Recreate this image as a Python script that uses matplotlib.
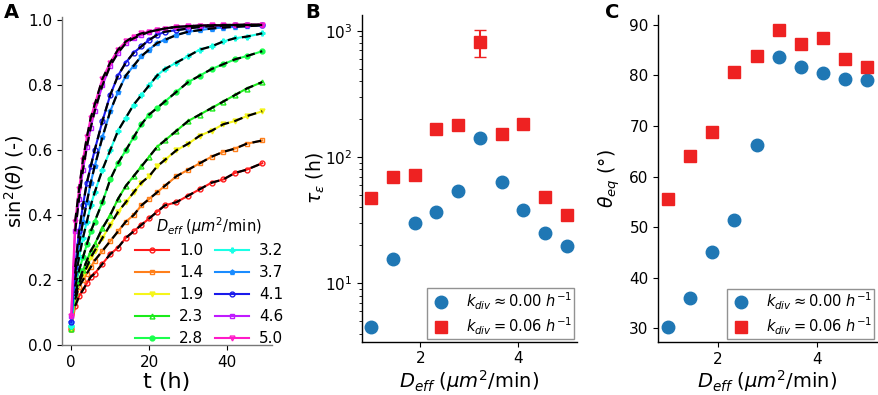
import numpy as np
import matplotlib
matplotlib.use('Agg')
import matplotlib.pyplot as plt

# ---- data ----
# panel A: sin^2(theta) vs time for each D_eff
t_h = [0, 1, 2, 3, 4, 5, 6, 8, 10, 12, 14, 16, 18, 20, 22, 24, 27, 30, 33, 36, 39, 42, 45, 49]
d_labels = ['1.0', '1.4', '1.9', '2.3', '2.8', '3.2', '3.7', '4.1', '4.6', '5.0']
sin2 = [
    [0.05, 0.12, 0.15, 0.17, 0.19, 0.21, 0.22, 0.25, 0.28, 0.30, 0.33, 0.35, 0.37, 0.39, 0.41, 0.43, 0.44, 0.46, 0.48, 0.50, 0.51, 0.53, 0.54, 0.56],
    [0.05, 0.14, 0.18, 0.20, 0.22, 0.24, 0.26, 0.29, 0.32, 0.35, 0.38, 0.40, 0.43, 0.45, 0.47, 0.49, 0.52, 0.54, 0.56, 0.58, 0.595, 0.605, 0.62, 0.63],
    [0.05, 0.15, 0.19, 0.22, 0.24, 0.27, 0.29, 0.33, 0.37, 0.41, 0.44, 0.47, 0.50, 0.52, 0.55, 0.57, 0.60, 0.62, 0.645, 0.66, 0.68, 0.69, 0.705, 0.72],
    [0.05, 0.16, 0.20, 0.23, 0.26, 0.29, 0.31, 0.36, 0.40, 0.45, 0.49, 0.52, 0.55, 0.58, 0.61, 0.63, 0.66, 0.69, 0.71, 0.73, 0.75, 0.77, 0.79, 0.81],
    [0.06, 0.18, 0.23, 0.27, 0.31, 0.35, 0.38, 0.44, 0.51, 0.56, 0.60, 0.64, 0.68, 0.71, 0.73, 0.75, 0.78, 0.81, 0.83, 0.85, 0.865, 0.88, 0.89, 0.905],
    [0.06, 0.20, 0.27, 0.33, 0.38, 0.43, 0.47, 0.54, 0.60, 0.66, 0.70, 0.74, 0.77, 0.80, 0.83, 0.85, 0.87, 0.89, 0.91, 0.92, 0.935, 0.945, 0.95, 0.96],
    [0.07, 0.22, 0.31, 0.38, 0.44, 0.50, 0.55, 0.64, 0.72, 0.78, 0.83, 0.86, 0.89, 0.91, 0.93, 0.94, 0.955, 0.965, 0.97, 0.975, 0.978, 0.98, 0.982, 0.985],
    [0.07, 0.24, 0.35, 0.43, 0.50, 0.55, 0.60, 0.69, 0.77, 0.83, 0.87, 0.90, 0.92, 0.94, 0.955, 0.965, 0.97, 0.975, 0.98, 0.982, 0.984, 0.985, 0.985, 0.985],
    [0.09, 0.35, 0.45, 0.54, 0.61, 0.67, 0.72, 0.80, 0.86, 0.90, 0.93, 0.945, 0.955, 0.965, 0.97, 0.975, 0.98, 0.982, 0.984, 0.985, 0.985, 0.986, 0.986, 0.986],
    [0.09, 0.38, 0.48, 0.57, 0.64, 0.70, 0.74, 0.82, 0.87, 0.91, 0.935, 0.95, 0.96, 0.965, 0.97, 0.975, 0.98, 0.982, 0.984, 0.985, 0.986, 0.986, 0.987, 0.987],
]
colors_a = ['#ff1a1a', '#ff7f1a', '#f5f51a', '#1aeb1a', '#1aff4d', '#1affe6', '#1a8cff', '#1a1aeb', '#c01aff', '#ff1ac8']
markers_a = ['o', 's', 'v', '^', 'o', 'P', 'p', 'o', 's', 'v']
filled_a = [False, False, True, False, True, True, True, False, False, False]

# panels B and C
d_eff = [1.00, 1.44, 1.89, 2.33, 2.78, 3.22, 3.67, 4.11, 4.56, 5.00]
tau_k0 = [4.5, 15.5, 29.9, 36.9, 54.1, 141, 63.4, 37.8, 25.2, 19.9]
tau_k6 = [47.1, 69, 72.4, 166, 180, 819, 151, 181, 48.5, 34.7]
tau_k6_err_lo = [0, 0, 0, 0, 0, 197, 0, 0, 0, 0]
tau_k6_err_hi = [0, 0, 0, 0, 0, 186, 0, 0, 0, 0]
theta_k0 = [30.2, 36.1, 45.1, 51.4, 66.3, 83.6, 81.7, 80.4, 79.2, 79.0]
theta_k6 = [55.6, 64.0, 68.9, 80.6, 83.9, 89.0, 86.3, 87.3, 83.2, 81.7]

lab_k0 = r'$k_{div} \approx 0.00\ h^{-1}$'
lab_k6 = r'$k_{div} = 0.06\ h^{-1}$'
dlabel = r'$D_{eff}$ ($\mu m^2$/min)'

plt.rcParams['font.size'] = 10
plt.rcParams['axes.linewidth'] = 1.0

fig = plt.figure(figsize=(8.79, 3.95), dpi=100)
axA = fig.add_axes([0.0702, 0.1266, 0.239, 0.830])
axB = fig.add_axes([0.4115, 0.135, 0.2446, 0.827])
axC = fig.add_axes([0.749, 0.1334, 0.2485, 0.8286])

# ---- A ----
for i in range(len(sin2)):
    axA.plot(t_h, sin2[i], color=colors_a[i], marker=markers_a[i], ms=3.5,
             mfc=colors_a[i] if filled_a[i] else 'none', mew=1.0, lw=1.5,
             label=d_labels[i])
for i in range(len(sin2)):
    axA.plot(t_h[1:], sin2[i][1:], 'k--', lw=1.6, dashes=(4, 2.5))
axA.set_ylim(0, 1.01)
axA.set_xlim(-2.45, 51.45)
axA.set_yticks([0.0, 0.2, 0.4, 0.6, 0.8, 1.0])
axA.set_xlabel('t (h)', fontsize=16, labelpad=2)
axA.set_ylabel(r'$\mathregular{sin^2(}\theta\mathregular{)}$ (-)', fontsize=14)
axA.yaxis.set_label_coords(-0.168, 0.5)
leg = axA.legend(ncol=2, frameon=False, loc='lower right', bbox_to_anchor=(1.12, -0.045),
                 title=dlabel, title_fontsize=10.5, fontsize=11, handlelength=2.2,
                 labelspacing=0.45, columnspacing=0.8, handletextpad=0.65)

# ---- B ----
axB.plot(d_eff, tau_k0, 'o', color='#1f77b4', ms=9, label=lab_k0)
axB.errorbar(d_eff, tau_k6, yerr=[tau_k6_err_lo, tau_k6_err_hi], fmt='none',
             ecolor='#ee2222', capsize=4, elinewidth=1.5)
axB.plot(d_eff, tau_k6, 's', color='#ee2222', ms=9, label=lab_k6)
axB.set_yscale('log')
axB.set_ylim(3.45, 1330)
axB.set_xticks([2, 4])
axB.set_xlabel(dlabel, fontsize=14, labelpad=1)
axB.set_ylabel(r'$\tau_\epsilon$ (h)', fontsize=13.5)
axB.yaxis.set_label_coords(-0.16, 0.5)
axB.legend(loc='lower right', fontsize=10.5, fancybox=False, borderaxespad=0.2,
           handletextpad=0.9, handlelength=1.6, edgecolor='#777777', borderpad=0.15,
           labelspacing=0.25)

# ---- C ----
axC.plot(d_eff, theta_k0, 'o', color='#1f77b4', ms=9, label=lab_k0)
axC.plot(d_eff, theta_k6, 's', color='#ee2222', ms=9, label=lab_k6)
axC.set_xticks([2, 4])
axC.set_xlabel(dlabel, fontsize=14, labelpad=1)
axC.set_ylabel(r'$\theta_{eq}$ ($\degree$)', fontsize=13.5)
axC.yaxis.set_label_coords(-0.165, 0.5)
axC.legend(loc='lower right', fontsize=10.5, fancybox=False, borderaxespad=0.2,
           handletextpad=0.9, handlelength=1.6, edgecolor='#777777', borderpad=0.15,
           labelspacing=0.25)

for ax in (axA, axB, axC):
    ax.spines['top'].set_visible(False)
    ax.spines['right'].set_visible(False)
    ax.tick_params(labelsize=11)
for s in ('left', 'bottom'):
    axA.spines[s].set_color('#777777')

fig.text(0.004, 0.993, 'A', fontsize=14, fontweight='bold', va='top')
fig.text(0.347, 0.993, 'B', fontsize=14, fontweight='bold', va='top')
fig.text(0.688, 0.993, 'C', fontsize=14, fontweight='bold', va='top')

fig.savefig('out.png', dpi=100)
